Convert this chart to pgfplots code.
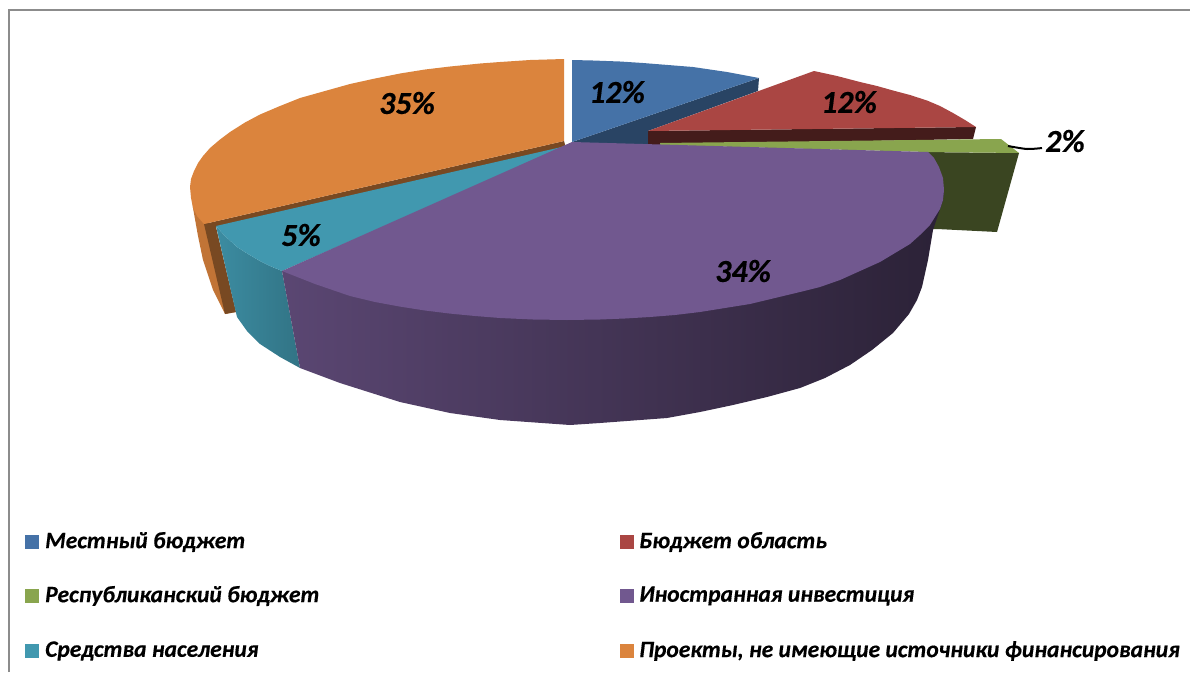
\documentclass[border=0pt]{standalone}
\usepackage{pgfplots}
\pgfplotsset{compat=1.18}
\usepackage{fontspec}
\setmainfont{Carlito}[BoldItalicFeatures={FakeBold=0.4}]
\definecolor{cblue}{HTML}{4572A7}
\definecolor{cred}{HTML}{AA4643}
\definecolor{cgreen}{HTML}{89A54E}
\definecolor{cpurple}{HTML}{71588F}
\definecolor{cteal}{HTML}{4198AF}
\definecolor{corange}{HTML}{DB843D}
\newcommand{\lab}[1]{\fontsize{32}{36}\selectfont\bfseries\itshape #1}
\newcommand{\leg}[1]{\fontsize{23.5}{28}\selectfont\bfseries\itshape #1}
\begin{document}
\begin{tikzpicture}
\begin{axis}[
  scale only axis, width=1190pt, height=672pt,
  xmin=0, xmax=1190, ymin=0, ymax=672, y dir=reverse,
  axis lines=none, clip=true, no markers
]
% page corners, so that the picture keeps its full size
\addplot[draw=none] coordinates {(0,0) (1190,0) (1190,672) (0,672)} --cycle;
% frame
\addplot[draw=black!45, line width=2.5pt] coordinates {(9,672) (9,10) (1190,10)};
% orange side
\addplot[draw=none, fill=corange!88!black] coordinates {(191,185) (193,208) (198,236) (203,260) (213,290) (225,314) (236,312) (210,224)} --cycle;
% orange inner wall
\addplot[draw=none, fill=corange!55!black] coordinates {(204,224) (564,141) (566,148) (216,227) (236,312) (225,314)} --cycle;
% orange top
\addplot[draw=none, fill=corange] coordinates {(564,59) (530,60) (500,62) (480,63.5) (450,66.5) (425,69.5) (400,73.5) (375,78.5) (350,84) (325,91) (300,98) (280,106) (260,114.5) (245,122.5) (230,132) (220,139.5) (210,148) (203,156) (198,163) (194,171) (191,179) (190,187) (191,198) (193,208) (197,216) (204,224) (564,141)} --cycle;
% teal side
\addplot[draw=none, left color=cteal!92!black, right color=cteal!76!black] coordinates {(216,226) (237,317) (247,331) (260,344) (280,357) (300,368) (282,271) (270,266) (260,261) (248,254) (237,247) (225,236)} --cycle;
% teal top
\addplot[draw=none, fill=cteal] coordinates {(216,226) (566,146) (574,143) (282,271) (270,266) (260,261) (248,254) (237,247) (225,236)} --cycle;
% blue
\addplot[draw=none, fill=cblue!60!black] coordinates {(572,142) (759,78) (758,91) (648,131) (648,146) (572,146)} --cycle;
\addplot[draw=none, fill=cblue] coordinates {(572,60) (593,60.5) (620,61.5) (643,63) (668,65) (693,67) (710,69.5) (727,72) (743,75) (759,78) (572,142)} --cycle;
% red
\addplot[draw=none, fill=cred!40!black] coordinates {(648,131) (976,127) (973,139) (658,145) (648,145)} --cycle;
\addplot[draw=none, fill=cred] coordinates {(648,131) (814,71) (837,76) (860,82) (877,86) (893,90.5) (910,95) (927,100.5) (940,106) (953,113) (965,120) (976,127)} --cycle;
% green
\addplot[draw=none, fill=cgreen!42!black] coordinates {(920,152) (1019,153) (997,232) (937,229) (920,229)} --cycle;
\addplot[draw=none, fill=cgreen] coordinates {(660,143) (1001,139) (1019,153) (928,152) (660,145)} --cycle;
\addplot[draw=black, line width=2pt, smooth] coordinates {(1008,146) (1027,149) (1042,148)};
% purple side
\addplot[draw=none, left color=cpurple!80!black, middle color=cpurple!52!black, right color=cpurple!38!black] coordinates {(944,190) (943,200) (933,230) (928,260) (922,287) (917,300) (909,314) (893,333) (872,350) (850,365) (825,378) (800,388) (767,397) (733,405) (700,412) (667,418) (600,423) (570,425) (500,420) (450,413) (400,402) (340,383) (300,368) (282,271)} --cycle;
% purple top
\addplot[draw=none, fill=cpurple] coordinates {(572,142) (928,152) (934,158) (939,167) (943,178) (944,190) (943,200) (940,209) (930,225) (920,235) (910,244) (895,253) (880,262) (860,271) (840,280) (820,287) (800,292) (775,298) (750,304) (725,308) (700,312) (675,315) (650,317) (625,318.5) (600,319.5) (567,320) (533,319.5) (500,318) (475,316) (450,313.6) (425,310.5) (400,306.6) (375,302) (350,296) (315,284) (282,271)} --cycle;
% labels
\node at (axis cs:617,92) {\lab{12\%}};
\node at (axis cs:849,102) {\lab{12\%}};
\node at (axis cs:1065,141) {\lab{2\%}};
\node at (axis cs:743,271) {\lab{34\%}};
\node at (axis cs:301,235) {\lab{5\%}};
\node at (axis cs:407,103) {\lab{35\%}};
% legend
\addplot[draw=none, fill=cblue] coordinates {(25,535) (39,535) (39,549) (25,549)} --cycle;
\addplot[draw=none, fill=cgreen] coordinates {(25,589) (39,589) (39,603) (25,603)} --cycle;
\addplot[draw=none, fill=cteal] coordinates {(25,644) (39,644) (39,658) (25,658)} --cycle;
\addplot[draw=none, fill=cred] coordinates {(620,535) (634,535) (634,549) (620,549)} --cycle;
\addplot[draw=none, fill=cpurple] coordinates {(620,589) (634,589) (634,603) (620,603)} --cycle;
\addplot[draw=none, fill=corange] coordinates {(620,644) (634,644) (634,658) (620,658)} --cycle;
\node[anchor=west, inner sep=0pt] at (axis cs:45,542) {\leg{Местный бюджет}};
\node[anchor=west, inner sep=0pt] at (axis cs:45,596) {\leg{Республиканский бюджет}};
\node[anchor=west, inner sep=0pt] at (axis cs:45,651) {\leg{Средства населения}};
\node[anchor=west, inner sep=0pt] at (axis cs:639,542) {\leg{Бюджет область}};
\node[anchor=west, inner sep=0pt] at (axis cs:639,596) {\leg{Иностранная инвестиция}};
\node[anchor=west, inner sep=0pt] at (axis cs:639,651) {\leg{Проекты, не имеющие источники финансирования}};
\end{axis}
\end{tikzpicture}
\end{document}
